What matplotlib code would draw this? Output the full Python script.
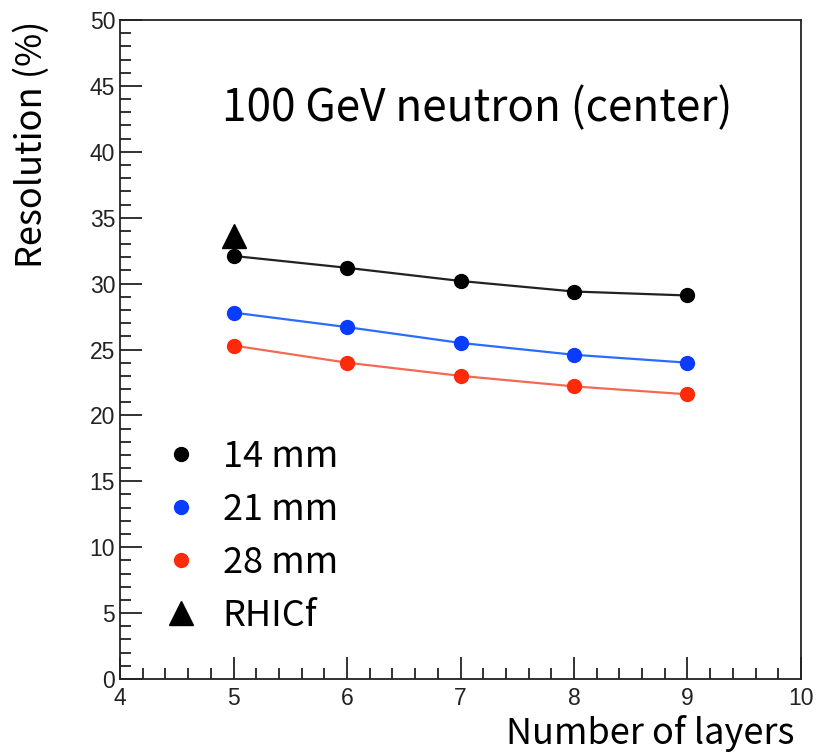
import matplotlib
matplotlib.use("Agg")
import matplotlib.pyplot as plt
from matplotlib.lines import Line2D
from matplotlib.ticker import MultipleLocator

# data
layers = [5, 6, 7, 8, 9]
res_14mm = [32.1, 31.2, 30.2, 29.4, 29.1]
res_21mm = [27.8, 26.7, 25.5, 24.6, 24.0]
res_28mm = [25.3, 24.0, 23.0, 22.2, 21.6]
rhicf_layers = [5]
rhicf_res = [33.6]

series_labels = ["14 mm", "21 mm", "28 mm"]
series_colors = ["black", "#0a3cff", "#ff2a0a"]
line_colors = ["#222222", "#2a6cff", "#f26a55"]

TEXT_FONT = ["Noto Sans CJK KR", "DejaVu Sans"]
TICK_FONT = ["Liberation Sans", "DejaVu Sans"]

fig = plt.figure(figsize=(8.17, 7.53), dpi=100)
ax = fig.add_axes([0.1469, 0.0983, 0.8335, 0.8751])

for vals, c, lc in zip([res_14mm, res_21mm, res_28mm], series_colors, line_colors):
    ax.plot(layers, vals, "-", color=lc, lw=1.6, zorder=2)
    ax.plot(layers, vals, "o", color=c, ms=10, mec=c, zorder=3)

ax.plot(rhicf_layers, rhicf_res, "^", color="black", ms=17, zorder=4)

ax.set_xlim(4, 10)
ax.set_ylim(0, 50)
ax.xaxis.set_major_locator(MultipleLocator(1))
ax.xaxis.set_minor_locator(MultipleLocator(0.2))
ax.yaxis.set_major_locator(MultipleLocator(5))
ax.yaxis.set_minor_locator(MultipleLocator(1))
ax.tick_params(which="both", direction="in", top=False, right=False,
               width=1.3, color="#222222", labelsize=16.5)
ax.tick_params(which="major", length=16)
ax.tick_params(which="minor", length=8)
ax.tick_params(axis="x", pad=6)
ax.tick_params(axis="y", pad=3.5)
for lab in ax.get_xticklabels() + ax.get_yticklabels():
    lab.set_family(TICK_FONT)
    lab.set_color("#222222")
for sp in ax.spines.values():
    sp.set_linewidth(1.3)
    sp.set_color("#222222")

# axis titles, ROOT style: flush with the right / top end of the axes
ax.set_xlabel("Number of layers", family=TEXT_FONT, fontsize=26)
ax.xaxis.set_label_coords(795 / 817, 1 - 744 / 753, transform=fig.transFigure)
ax.xaxis.label.set(ha="right", va="baseline")
ax.set_ylabel("Resolution (%)", family=TEXT_FONT, fontsize=26,
              rotation_mode="anchor")
ax.yaxis.set_label_coords(42 / 817, 1 - 21 / 753, transform=fig.transFigure)
ax.yaxis.label.set(ha="right", va="baseline")

ax.text(222 / 817, 1 - 121 / 753, "100 GeV neutron (center)",
        transform=fig.transFigure, family=TEXT_FONT, fontsize=31.8,
        va="baseline", ha="left")

handles = [Line2D([], [], ls="none", marker="o", color=c, ms=10) for c in series_colors]
handles.append(Line2D([], [], ls="none", marker="^", color="black", ms=17))
leg = ax.legend(handles, series_labels + ["RHICf"], loc="lower left",
                bbox_to_anchor=(0.0156, 0.019), frameon=False,
                prop={"family": TEXT_FONT, "size": 26},
                handletextpad=0.65, labelspacing=0.47, handlelength=1.0)

fig.savefig("out.png", dpi=100)
